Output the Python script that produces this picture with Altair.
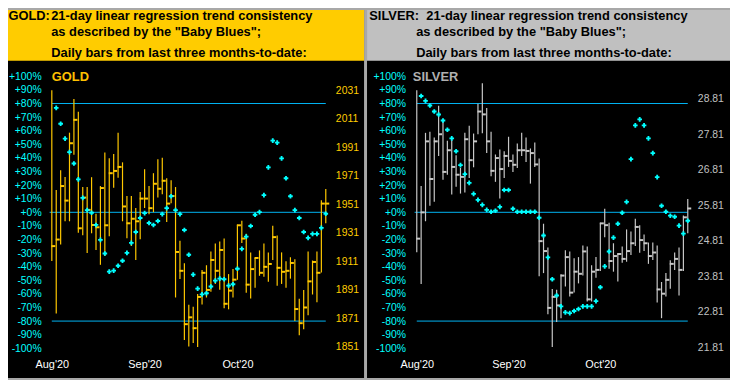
import json
import altair as alt
import pandas as pd

FONT = "Liberation Sans"

# ---------------- data ----------------
MONTH_TICKS = [0, 21, 42]
MONTH_LABELS = ["Aug'20", "Sep'20", "Oct'20"]
PCT_TICKS = [-100, -90, -80, -70, -60, -50, -40, -30, -20, -10, 0,
             10, 20, 30, 40, 50, 60, 70, 80, 90, 100]
BAND_LEVELS = [80, 0, -80]
BAND_START = [0, -0.5, 0]
BAND_END = [62, 62, 62]

GOLD_PRICE_TICKS = [1851, 1871, 1891, 1911, 1931, 1951, 1971, 1991, 2011, 2031]
SILVER_PRICE_TICKS = [21.81, 22.81, 23.81, 24.81, 25.81, 26.81, 27.81, 28.81]

GOLD_HIGH = [2031.0, 1961.0, 1974.9, 1970.2, 2001.2, 2024.8, 2015.8, 1963.1, 1963.1, 1970.0,
             1944.4, 1963.8, 1987.3, 1983.2, 1986.2, 2001.2, 1980.4, 1956.8, 1956.8, 1948.5,
             1959.6, 1975.6, 1963.8, 1972.8, 1982.5, 1983.6, 1969.3, 1967.9, 1963.1, 1925.4,
             1909.7, 1880.6, 1879.2, 1888.2, 1904.9, 1908.3, 1918.0, 1923.6, 1925.0, 1927.0,
             1902.1, 1905.6, 1936.7, 1939.5, 1930.3, 1917.3, 1913.6, 1918.7, 1923.6, 1917.3,
             1936.0, 1929.1, 1917.3, 1911.1, 1913.9, 1912.5, 1884.8, 1891.0, 1918.0, 1911.6,
             1918.0, 1953.8, 1961.7]
GOLD_LOW = [1911.3, 1874.4, 1922.9, 1939.1, 1939.1, 1985.7, 1931.0, 1929.3, 1916.9, 1930.7,
            1919.0, 1908.6, 1914.8, 1928.7, 1962.6, 1969.6, 1939.1, 1927.3, 1921.7, 1912.0,
            1926.6, 1948.5, 1944.1, 1945.5, 1955.7, 1958.0, 1938.6, 1951.8, 1885.7, 1898.6,
            1855.9, 1851.3, 1853.8, 1851.0, 1880.8, 1885.7, 1889.8, 1895.2, 1891.2, 1878.1,
            1877.4, 1885.7, 1898.2, 1923.8, 1889.1, 1885.0, 1892.6, 1900.9, 1900.2, 1896.8,
            1912.0, 1894.0, 1895.2, 1892.6, 1898.9, 1869.3, 1859.3, 1863.5, 1873.2, 1887.8,
            1882.4, 1903.2, 1937.7]
GOLD_CLOSE = [1921.7, 1926.3, 1963.8, 1953.6, 1993.8, 2010.2, 1934.2, 1955.7, 1947.1, 1936.5,
              1934.9, 1962.4, 1936.3, 1972.8, 1974.4, 1977.2, 1949.5, 1937.7, 1940.9, 1939.1,
              1955.0, 1955.0, 1948.3, 1965.4, 1961.9, 1967.5, 1951.5, 1956.8, 1917.6, 1904.4,
              1867.0, 1871.8, 1864.2, 1886.1, 1903.0, 1891.0, 1912.0, 1904.4, 1919.0, 1881.3,
              1890.5, 1898.2, 1936.3, 1927.0, 1894.7, 1905.6, 1913.4, 1903.0, 1907.2, 1909.2,
              1928.0, 1906.5, 1903.7, 1904.4, 1909.9, 1877.6, 1867.7, 1878.7, 1897.0, 1910.6,
              1903.0, 1951.5, 1951.5]
GOLD_BLUES = [None, 76.8, 65.1, 54.2, 44.2, 35.9, 24.2, 10.6, 1.6, -0.3,
              -9.3, -20.3, -30.3, -43.6, -42.9, -39.3, -35.6, -29.8, -22.5, -14.5,
              -4.2, -0.6, -7.9, -9.3, -6.4, -1.3, 3.1, 11.8, 1.6, -1.3,
              -13.0, -31.2, -45.8, -56.1, -60.4, -59.5, -54.6, -50.2, -48.8, -49.2,
              -53.9, -52.9, -41.5, -26.9, -17.9, -10.1, -1.8, 0.1, 12.6, 33.0,
              52.7, 51.2, 39.6, 25.0, 11.8, 1.6, -4.2, -14.5, -18.8, -15.9,
              -15.9, -11.5, -1.1]

SILVER_HIGH = [29.05, 26.35, 27.85, 27.88, 27.72, 28.61, 28.16, 27.63, 27.66, 27.22,
               26.86, 27.85, 28.05, 27.83, 28.67, 29.25, 28.55, 27.88, 27.24, 27.38,
               27.33, 27.74, 27.24, 27.55, 27.85, 27.72, 27.41, 27.58, 27.13, 25.29,
               24.62, 23.45, 23.43, 23.87, 24.54, 24.51, 24.32, 24.35, 24.68, 24.65,
               24.12, 24.35, 25.32, 25.71, 25.32, 24.74, 24.46, 24.65, 25.13, 25.07,
               25.43, 25.25, 24.99, 24.76, 24.76, 24.68, 23.65, 23.90, 24.26, 24.48,
               24.62, 25.52, 25.99]
SILVER_LOW = [24.49, 23.59, 25.36, 25.80, 25.91, 27.20, 26.53, 26.67, 26.11, 26.33,
              26.14, 26.17, 26.58, 26.88, 27.81, 27.84, 27.28, 26.63, 26.47, 26.00,
              26.58, 26.89, 26.75, 26.86, 27.20, 27.03, 26.42, 26.89, 23.81, 23.90,
              22.74, 21.82, 22.52, 22.63, 23.52, 23.24, 23.35, 23.61, 23.83, 23.10,
              23.10, 23.77, 23.96, 24.91, 24.02, 23.94, 23.66, 24.19, 24.22, 24.41,
              24.66, 24.47, 24.52, 24.16, 24.27, 23.07, 22.63, 23.24, 23.46, 23.99,
              23.27, 23.96, 25.02]
SILVER_CLOSE = [24.87, 25.61, 27.61, 26.55, 27.61, 27.81, 26.75, 27.36, 26.89, 26.67,
                26.61, 27.67, 27.08, 27.61, 28.45, 28.37, 27.61, 26.78, 27.14, 26.83,
                27.20, 27.06, 26.95, 27.36, 27.36, 27.34, 27.28, 26.96, 24.80, 24.52,
                22.92, 23.23, 22.99, 23.83, 24.35, 23.35, 23.94, 23.88, 24.51, 23.16,
                23.94, 23.99, 25.30, 25.25, 24.24, 24.38, 24.44, 24.30, 24.52, 24.74,
                25.20, 24.83, 24.74, 24.38, 24.48, 23.44, 23.32, 23.71, 24.16, 24.30,
                23.99, 25.47, 25.72]
SILVER_BLUES = [None, 85.5, 81.9, 78.5, 74.1, 71.9, 67.5, 60.7, 54.4, 44.9,
                34.7, 28.1, 21.6, 13.5, 9.1, 5.5, 1.8, 0.4, 1.1, 4.0,
                16.4, 16.4, 2.6, 0.4, 0.4, 0.4, 0.4, 0.4, -4.0, -17.1,
                -33.2, -49.2, -61.2, -69.2, -73.6, -74.1, -72.6, -71.1, -69.2, -69.2,
                -69.2, -65.3, -55.1, -39.8, -28.8, -18.6, -8.4, -0.3, 7.7, 39.1,
                63.9, 68.3, 63.9, 54.4, 43.5, 25.9, 4.8, 0.4, -2.5, -3.3,
                -9.8, -15.7, -6.2]

GOLD_TITLE = ["GOLD:", "21-day linear regression trend consistency",
              "as described by the \"Baby Blues\";",
              "Daily bars from last three months-to-date:"]
SILVER_TITLE = ["SILVER:", "21-day linear regression trend consistency",
                "as described by the \"Baby Blues\";",
                "Daily bars from last three months-to-date:"]

# ---------------- styling ----------------
CYAN = "#00FFFF"
BLUE = "#00B4F4"
H = 372

month_expr = "{}[indexof({}, datum.value)]".format(json.dumps(MONTH_LABELS), json.dumps(MONTH_TICKS))
pct_expr = "(datum.value >= 0 ? '+' : '') + datum.value + '%'"


def panel(cfg):
    n = len(cfg["high"])
    df = pd.DataFrame({"idx": list(range(n)), "high": cfg["high"], "low": cfg["low"],
                       "close": cfg["close"], "blues": cfg["blues"]})
    hl_df = pd.DataFrame({"level": BAND_LEVELS, "x0": BAND_START, "x1": BAND_END})
    W = cfg["width"]

    xs = alt.Scale(domain=[0, 62], range=cfg["x_range"], nice=False, zero=False)
    x_axis = alt.Axis(values=MONTH_TICKS, labelExpr=month_expr, orient="bottom", offset=-22,
                      ticks=False, domain=False, grid=False, labelPadding=2,
                      labelColor="white", labelFont=FONT, labelFontSize=11,
                      labelFlush=False, labelOverlap=False, labelAlign="center")
    pct_scale = alt.Scale(domain=[-100, 100], range=[342, 67], nice=False, zero=False)
    pct_axis = alt.Axis(values=PCT_TICKS, labelExpr=pct_expr, orient="left",
                        offset=cfg["pct_offset"], ticks=False, domain=False, grid=False,
                        labelPadding=2, labelColor=CYAN, labelFont=FONT, labelFontSize=10.5,
                        labelFlush=False, labelOverlap=False)
    price_scale = alt.Scale(domain=cfg["price_domain"], range=cfg["price_range"],
                            nice=False, zero=False)
    price_axis = alt.Axis(values=cfg["price_ticks"], format=cfg["price_fmt"], orient="right",
                          offset=cfg["price_offset"], ticks=False, domain=False, grid=False,
                          labelPadding=2, labelColor=cfg["label_color"], labelFont=FONT,
                          labelFontSize=10.5, labelFlush=False, labelOverlap=False)

    def X(field):
        return alt.X(field, type="quantitative", scale=xs, axis=x_axis, title=None)

    band = alt.Chart(pd.DataFrame({"t": [0]})).mark_rect(color=cfg["band"]).encode(
        x=alt.value(0), x2=alt.value(W), y=alt.value(0), y2=alt.value(51.3))

    texts = []
    tpos = cfg["title_pos"]
    for line, (tx, ty) in zip(cfg["title"], tpos):
        texts.append(
            alt.Chart(pd.DataFrame({"t": [line]})).mark_text(
                align="left", baseline="alphabetic", font=FONT, fontSize=13,
                fontWeight="bold", color="black").encode(
                x=alt.value(tx), y=alt.value(ty), text="t:N"))

    name = alt.Chart(pd.DataFrame({"t": [cfg["name"]]})).mark_text(
        align="left", baseline="middle", font=FONT, fontSize=13, fontWeight="bold",
        color=cfg["name_color"]).encode(
        x=alt.value(cfg["name_x"]), y=alt.value(68), text="t:N")

    hl = alt.Chart(hl_df).mark_rule(color=BLUE, strokeWidth=1).encode(
        x=X("x0"), x2="x1:Q",
        y=alt.Y("level:Q", scale=pct_scale, axis=None))

    bars = alt.Chart(df).mark_rule(color=cfg["bar"], strokeWidth=1.2).encode(
        x=X("idx"), y=alt.Y("low:Q", scale=price_scale, axis=price_axis, title=None),
        y2="high:Q")
    ticks = alt.Chart(df).mark_tick(orient="horizontal", size=4, thickness=2, xOffset=1.5,
                                    color=cfg["bar"], opacity=1).encode(
        x=X("idx"), y=alt.Y("close:Q", scale=price_scale, axis=price_axis, title=None))

    dots = alt.Chart(df).mark_point(shape="cross", filled=True, size=22, color=CYAN,
                                    opacity=1).encode(
        x=X("idx"), y=alt.Y("blues:Q", scale=pct_scale, axis=pct_axis, title=None))

    return alt.layer(band, *texts, name, hl, alt.layer(bars, ticks), dots).resolve_scale(
        y="independent").properties(width=W, height=H)


gold = panel(dict(
    high=GOLD_HIGH, low=GOLD_LOW, close=GOLD_CLOSE, blues=GOLD_BLUES,
    width=360, x_range=[44.3, 321.3], pct_offset=-35.5, price_offset=-31,
    price_domain=[1851, 2031], price_range=[340.7, 81], price_ticks=GOLD_PRICE_TICKS,
    price_fmt="d", label_color="#FFCC00", band="#FFCC00", bar="#FFC800",
    title=GOLD_TITLE, title_pos=[(0.5, 10), (43.7, 10), (43.7, 26.7), (43.7, 47)],
    name="GOLD", name_x=44.3, name_color="#FFC000"))

silver = panel(dict(
    high=SILVER_HIGH, low=SILVER_LOW, close=SILVER_CLOSE, blues=SILVER_BLUES,
    width=367, x_range=[50.3, 324.3], pct_offset=-41, price_offset=-35,
    price_domain=[21.81, 28.81], price_range=[341, 89.7], price_ticks=SILVER_PRICE_TICKS,
    price_fmt=".2f", label_color="#C0C0C0", band="#C0C0C0", bar="#C8C8C8",
    title=SILVER_TITLE, title_pos=[(2.3, 10), (60, 10), (49.7, 26.7), (49.7, 47)],
    name="SILVER", name_x=46.3, name_color="#B0B0B0"))

chart = alt.hconcat(gold, silver, spacing=3).properties(
    padding=0, background="#A8A8A8").configure_view(fill="black", strokeWidth=0)

chart.save("out.html", embed_options={"renderer": "svg", "actions": False})
